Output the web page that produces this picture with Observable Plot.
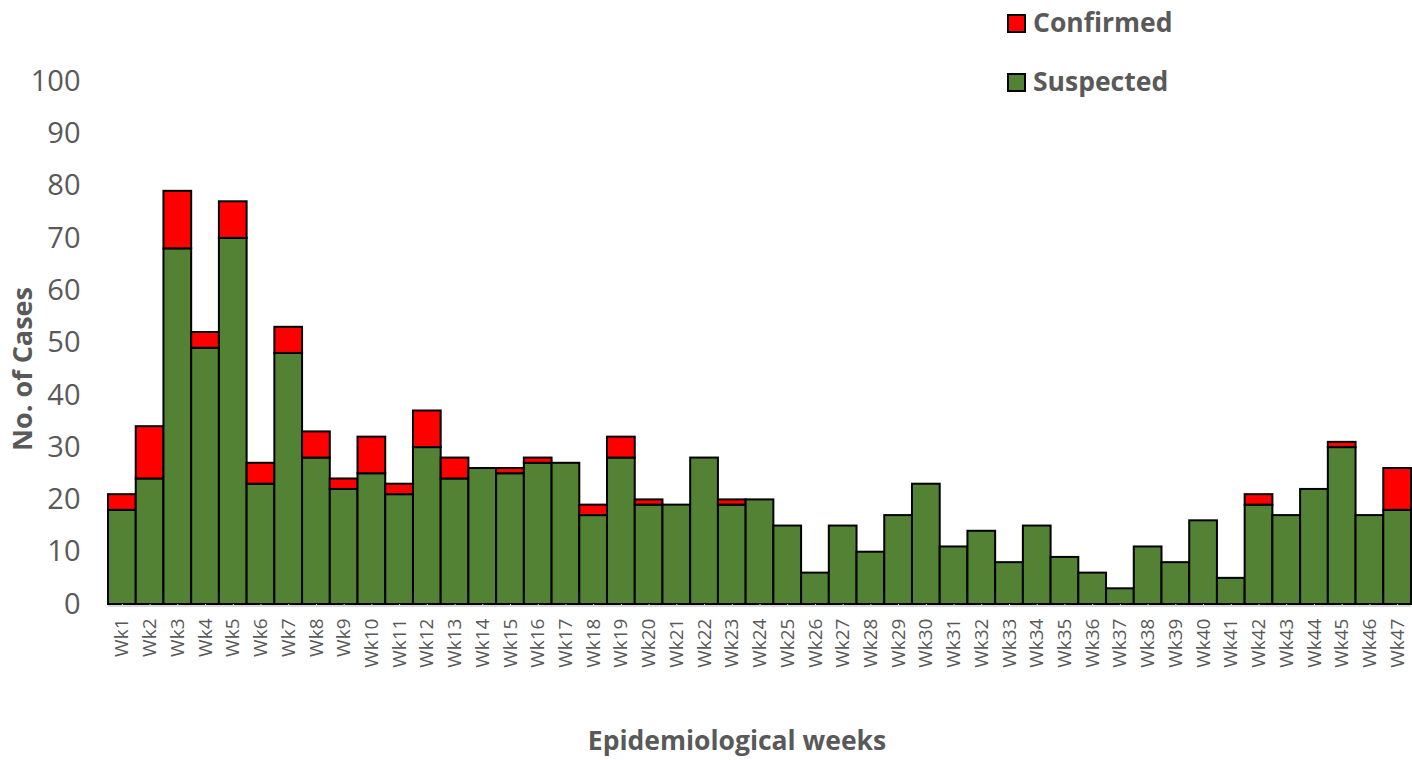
<!DOCTYPE html>
<html>
<head>
<meta charset="utf-8">
<script src="https://cdn.jsdelivr.net/npm/d3@7"></script>
<script src="https://cdn.jsdelivr.net/npm/@observablehq/plot@0.6"></script>
<style>
  html, body { margin: 0; padding: 0; background: #fff; }
  #wrap { position: relative; width: 1412px; height: 760px; overflow: hidden; }
  #wrap svg text { font-family: "Open Sans", sans-serif; }
  .lbl { position: absolute; font-family: "Open Sans", sans-serif; font-weight: bold; color: #595959; white-space: nowrap; line-height: 1.2; }
  .sw { position: absolute; width: 15px; height: 15px; border: 2px solid #000; }
</style>
</head>
<body>
<div id="wrap"></div>
<script>
const weeks = Array.from({length: 47}, (_, i) => "Wk" + (i + 1));
const suspected = [18,24,68,49,70,23,48,28,22,25,21,30,24,26,25,27,27,17,28,19,19,28,19,20,15,6,15,10,17,23,11,14,8,15,9,6,3,11,8,16,5,19,17,22,30,17,18];
const confirmed = [3,10,11,3,7,4,5,5,2,7,2,7,4,0,1,1,0,2,4,1,0,0,1,0,0,0,0,0,0,0,0,0,0,0,0,0,0,0,0,0,0,2,0,0,1,0,8];
const seriesNames = ["Suspected", "Confirmed"];
const seriesColors = ["#548235", "#FF0000"];
const yTicks = [0,10,20,30,40,50,60,70,80,90,100];

const rows = [];
weeks.forEach((w, i) => {
  rows.push({week: w, series: "Suspected", value: suspected[i]});
  rows.push({week: w, series: "Confirmed", value: confirmed[i]});
});

const chart = Plot.plot({
  width: 1412,
  height: 760,
  marginLeft: 108,
  marginRight: 1,
  marginTop: 81,
  marginBottom: 156,
  style: {fontFamily: "'Open Sans', sans-serif", color: "#595959", background: "#fff"},
  x: {domain: weeks, padding: 0, label: null},
  y: {domain: [0, 100], label: null},
  color: {domain: seriesNames, range: seriesColors},
  marks: [
    Plot.barY(rows, Plot.stackY({
      order: seriesNames,
      filter: d => d.value > 0,
      x: "week",
      y: "value",
      fill: "series",
      stroke: "#000",
      strokeWidth: 2
    })),
    Plot.ruleY([0], {stroke: "#d9d9d9", strokeWidth: 2, dy: 1.5}),
    Plot.axisY({ticks: yTicks, tickSize: 0, tickPadding: 28, fontSize: 29, label: null, fill: "#595959"}),
    Plot.axisX({tickRotate: -90, tickSize: 3, tickPadding: 11, fontSize: 19, label: null, stroke: "#d9d9d9", fill: "#595959"})
  ]
});

const wrap = document.getElementById("wrap");
chart.style.position = "absolute";
chart.style.left = "0";
chart.style.top = "0";
wrap.appendChild(chart);

function addLabel(text, css) {
  const d = document.createElement("div");
  d.className = "lbl";
  d.textContent = text;
  Object.assign(d.style, css);
  wrap.appendChild(d);
  return d;
}
function addSwatch(color, css) {
  const d = document.createElement("div");
  d.className = "sw";
  d.style.background = color;
  Object.assign(d.style, css);
  wrap.appendChild(d);
}

// legend
addSwatch(seriesColors[1], {left: "1007px", top: "14px"});
addLabel(seriesNames[1], {left: "1033px", top: "7px", fontSize: "26.5px"});
addSwatch(seriesColors[0], {left: "1007px", top: "73px"});
addLabel(seriesNames[0], {left: "1033px", top: "66px", fontSize: "26.5px"});

// axis titles
addLabel("Epidemiological weeks", {left: "737px", top: "725px", fontSize: "26.5px", transform: "translateX(-50%)"});
addLabel("No. of Cases", {left: "22px", top: "369px", fontSize: "27px", transform: "translate(-50%, -50%) rotate(-90deg)"});
</script>
</body>
</html>
